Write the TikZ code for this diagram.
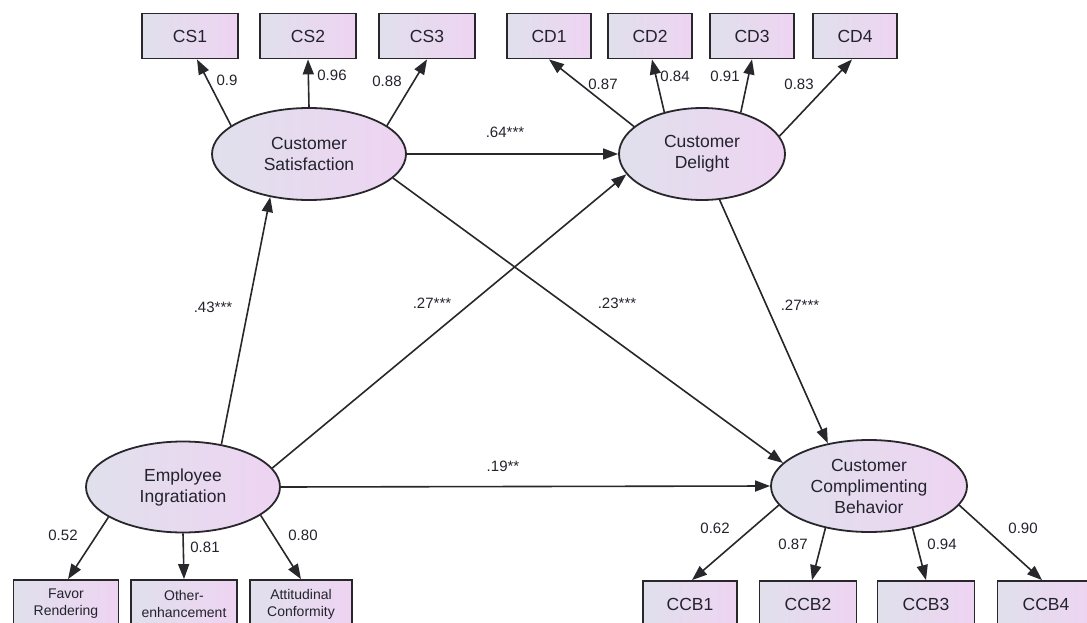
\documentclass[tikz,border=0pt]{standalone}
\usepackage{fontspec}
\setmainfont{Liberation Sans}
\usetikzlibrary{arrows.meta,shapes.geometric,calc}
\definecolor{lc}{RGB}{40,40,44}
\definecolor{txt}{RGB}{35,35,45}
\definecolor{fl}{RGB}{224,224,236}
\definecolor{fr}{RGB}{238,212,242}
\begin{document}
\begin{tikzpicture}[x=1pt,y=-1pt,
  box/.style={draw=lc, line width=1.8pt, left color=fl, right color=fr,
    minimum width=96pt, minimum height=45pt, inner sep=0pt,
    font=\fontsize{17.5}{20}\selectfont, text=txt},
  sbox/.style={box, minimum height=48pt, align=center,
    font=\fontsize{14}{17}\selectfont},
  lat/.style={ellipse, draw=lc, line width=1.8pt, left color=fl, right color=fr,
    inner sep=0pt, align=center, font=\fontsize{17.5}{21}\selectfont, text=txt},
  arr/.style={-{Triangle[length=15pt,width=11pt]}, draw=lc, line width=1.6pt},
  lab/.style={font=\fontsize{15}{18}\selectfont, text=txt, inner sep=1pt}]
\useasboundingbox (0,0) rectangle (1087,623);
\fill[white] (0,0) rectangle (1087,623);
% indicators
\node[box] (cs1) at (190,36) {CS1};
\node[box] (cs2) at (308,36) {CS2};
\node[box] (cs3) at (427,36) {CS3};
\node[box,minimum width=84pt] (cd1) at (549,36) {CD1};
\node[box,minimum width=84pt] (cd2) at (650,36) {CD2};
\node[box,minimum width=84pt] (cd3) at (752,36) {CD3};
\node[box,minimum width=84pt] (cd4) at (855,36) {CD4};
\node[sbox,minimum width=105pt] (fav) at (66,604) {Favor\\Rendering};
\node[sbox,minimum width=106pt] (oth) at (184,604) {Other-\\enhancement};
\node[sbox,minimum width=102pt] (att) at (301,604) {Attitudinal\\Conformity};
\node[box,minimum width=94pt,minimum height=46pt] (ccb1) at (690,604) {CCB1};
\node[box,minimum width=97pt,minimum height=46pt] (ccb2) at (808,604) {CCB2};
\node[box,minimum width=97pt,minimum height=46pt] (ccb3) at (926,604) {CCB3};
\node[box,minimum width=97pt,minimum height=46pt] (ccb4) at (1046,604) {CCB4};
% latent variables
\node[lat,minimum width=194pt,minimum height=92pt] (cs) at (309,154) {Customer\\Satisfaction};
\node[lat,minimum width=166pt,minimum height=92pt] (cd) at (702,154) {Customer\\Delight};
\node[lat,minimum width=194pt,minimum height=91pt] (ei) at (183,487) {Employee\\Ingratiation};
\node[lat,minimum width=196pt,minimum height=92pt] (ccb) at (869,486) {Customer\\Complimenting\\Behavior};
% loadings
\draw[arr] (cs.160) -- ($(cs1.south)+(7,0)$);
\draw[arr] (cs.90) -- (cs2.south);
\draw[arr] (cs.20) -- (cs3.south);
\draw[arr] (cd.158) -- (cd1.south);
\draw[arr] (cd.132) -- ($(cd2.south)+(2,0)$);
\draw[arr] (cd.47) -- (cd3.south);
\draw[arr] (cd.13) -- ($(cd4.south)+(-3,0)$);
\draw[arr] (ei.202) -- ($(fav.north)+(2,0)$);
\draw[arr] (ei.south) -- (oth.north);
\draw[arr] (ei.-20) -- (att.north);
\draw[arr] (ccb.192) -- ($(ccb1.north)+(2,0)$);
\draw[arr] (ccb.224) -- ($(ccb2.north)+(4,0)$);
\draw[arr] (ccb.316) -- (ccb3.north);
\draw[arr] (ccb.-12) -- ($(ccb4.north)+(-4,0)$);
% structural paths
\draw[arr] (cs.east) -- (cd.west);
\draw[arr] (cs.-16) -- (ccb.165);
\draw[arr] (cd.-69) -- (ccb.134);
\draw[arr] (ei.48) -- (cs.228);
\draw[arr] (ei.12) -- (cd.195);
\draw[arr] (ei.east) -- (ccb.west);
% labels
\node[lab] (l1) at (227,80) {0.9};
\node[lab] (l2) at (332,75) {0.96};
\node[lab] (l3) at (387,81) {0.88};
\node[lab] (l4) at (603,84) {0.87};
\node[lab] (l5) at (675,76) {0.84};
\node[lab] (l6) at (725,76) {0.91};
\node[lab] (l7) at (799,84) {0.83};
\node[lab] (l8) at (505,132) {.64***};
\node[lab] (l9) at (213,307) {.43***};
\node[lab] (l10) at (432,303) {.27***};
\node[lab] (l11) at (617,303) {.23***};
\node[lab] (l12) at (800,305) {.27***};
\node[lab] (l13) at (503,466) {.19**};
\node[lab] (l14) at (63,535) {0.52};
\node[lab] (l15) at (205,547) {0.81};
\node[lab] (l16) at (303,535) {0.80};
\node[lab] (l17) at (715,528) {0.62};
\node[lab] (l18) at (793,544) {0.87};
\node[lab] (l19) at (942,544) {0.94};
\node[lab] (l20) at (1023,528) {0.90};
\end{tikzpicture}
\end{document}
